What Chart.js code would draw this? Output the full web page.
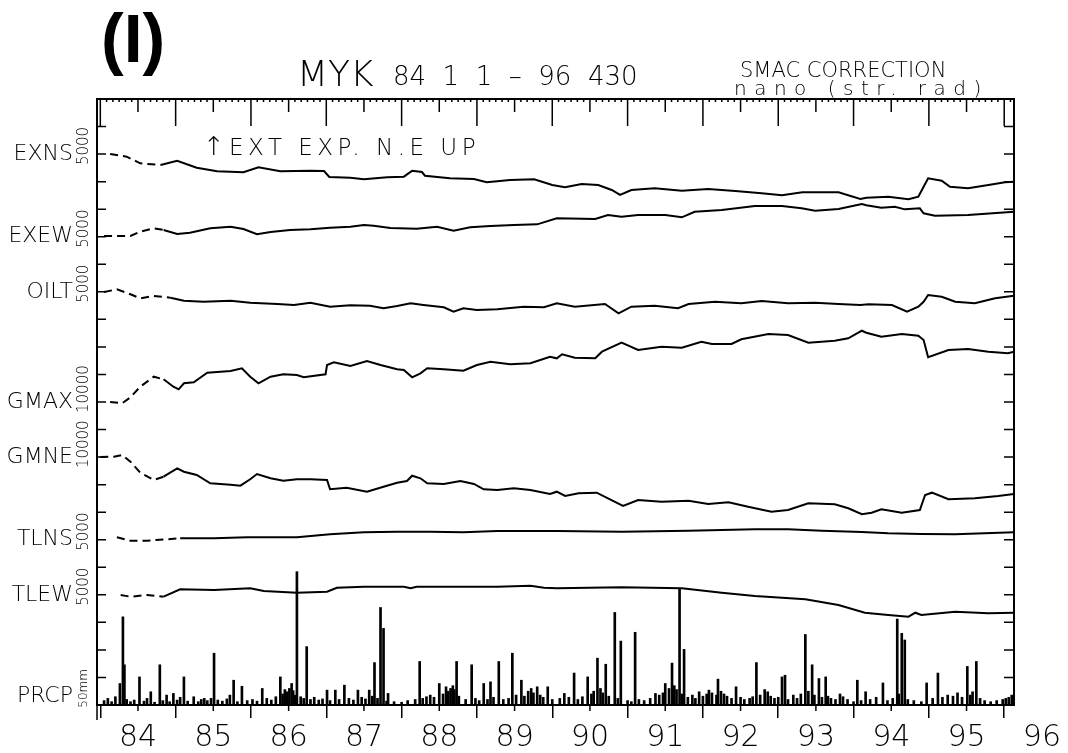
<!DOCTYPE html>
<html>
<head>
<meta charset="utf-8">
<title>MYK strain record 84-96</title>
<script src="https://cdn.jsdelivr.net/npm/chart.js@4.4.1/dist/chart.umd.min.js"></script>
<style>
  html, body { margin: 0; padding: 0; background: #fff; }
  canvas { display: block; }
</style>
</head>
<body>
<canvas id="strainChart" width="1068" height="753"></canvas>
<script>
// Traces: [decimal year, nano strain / nano rad relative to the label tick]
const exns = [[84.13,0],[84.35,-470],[84.53,-1670],[84.80,-1980],[85.02,-1200],[85.28,-2470],[85.55,-3120],[85.90,-3300],[86.10,-2400],[86.39,-3120],[86.79,-3010],[86.97,-3070],[87.04,-4160],[87.32,-4280],[87.50,-4570],[87.81,-4210],[88.03,-4100],[88.14,-3010],[88.27,-3250],[88.31,-3920],[88.64,-4390],[88.96,-4520],[89.13,-5120],[89.44,-4700],[89.76,-4570],[90.00,-5610],[90.17,-6030],[90.39,-5430],[90.61,-5610],[90.79,-6520],[90.90,-7420],[91.05,-6520],[91.36,-6210],[91.72,-6640],[92.07,-6330],[92.43,-6700],[92.78,-7110],[93.05,-7480],[93.32,-6930],[93.80,-6930],[94.09,-8150],[94.17,-7910],[94.46,-7730],[94.73,-8200],[94.86,-7730],[94.93,-5920],[94.99,-4390],[95.17,-4830],[95.28,-5920],[95.52,-6210],[95.79,-5610],[96.01,-5120],[96.13,-5010]];
const exew = [[84.05,130],[84.40,130],[84.53,910],[84.71,1520],[84.84,1220],[85.02,490],[85.19,730],[85.46,1520],[85.73,1820],[85.90,1400],[86.08,440],[86.26,850],[86.52,1220],[86.79,1340],[87.05,1630],[87.32,1820],[87.50,2120],[87.63,2000],[87.85,1580],[88.20,1450],[88.47,1820],[88.69,1090],[88.91,1710],[89.18,1940],[89.49,2120],[89.80,2250],[90.06,3340],[90.57,3210],[90.74,3940],[90.92,3630],[91.14,3940],[91.50,3940],[91.72,3520],[91.89,4540],[92.25,4850],[92.69,5570],[93.05,5570],[93.31,5150],[93.49,4720],[93.80,5030],[94.11,5940],[94.17,5700],[94.37,5260],[94.55,5450],[94.68,4970],[94.88,5150],[94.93,4250],[95.08,3810],[95.52,3940],[96.13,4540]];
const oilt = [[84.05,-40],[84.22,450],[84.40,-450],[84.53,-1180],[84.71,-760],[84.93,-1070],[85.11,-1620],[85.37,-1800],[85.73,-1620],[85.99,-1980],[86.35,-2210],[86.57,-2400],[86.79,-1980],[87.05,-2700],[87.32,-2450],[87.58,-2520],[87.76,-3000],[87.94,-2580],[88.12,-2090],[88.29,-2400],[88.56,-2810],[88.69,-3610],[88.82,-3000],[89.00,-3300],[89.27,-3180],[89.62,-2700],[89.89,-2810],[90.06,-2090],[90.30,-2700],[90.70,-2210],[90.88,-3900],[91.05,-2700],[91.36,-2520],[91.67,-2990],[91.81,-2210],[92.16,-1800],[92.51,-2090],[92.78,-1670],[93.13,-2090],[93.49,-1980],[93.80,-2210],[94.09,-2400],[94.20,-2270],[94.51,-2400],[94.71,-3610],[94.86,-2700],[94.93,-1800],[94.99,-580],[95.17,-890],[95.35,-1800],[95.61,-2090],[95.88,-1180],[96.13,-710]];
const gmax = [[84.13,0],[84.29,-470],[84.40,1710],[84.53,5550],[84.71,9180],[84.84,8240],[84.97,5550],[85.04,4610],[85.11,6790],[85.24,7150],[85.42,10640],[85.73,11250],[85.88,12230],[85.99,9180],[86.10,6790],[86.26,9180],[86.43,10060],[86.61,9800],[86.70,8970],[86.99,10060],[87.01,13430],[87.10,14410],[87.32,13070],[87.54,14880],[87.72,13430],[87.94,11870],[88.03,11620],[88.14,8970],[88.25,10420],[88.34,12230],[88.56,11870],[88.82,11360],[89.00,13430],[89.18,14630],[89.44,13690],[89.71,14050],[89.97,16440],[90.06,15860],[90.13,17320],[90.30,16080],[90.57,15860],[90.66,18260],[90.92,21530],[91.14,18880],[91.45,20070],[91.72,19710],[91.98,21890],[92.12,21050],[92.38,21050],[92.51,22760],[92.87,24680],[93.13,24320],[93.40,21530],[93.75,22250],[93.93,23120],[94.11,25880],[94.17,25160],[94.37,23710],[94.64,24680],[94.86,24070],[94.93,22510],[94.99,16230],[95.26,18880],[95.52,19240],[95.79,18260],[96.05,17680],[96.13,18260]];
const gmne = [[84.00,40],[84.18,150],[84.29,760],[84.40,-1670],[84.53,-5660],[84.71,-8310],[84.84,-7110],[85.02,-4070],[85.11,-5300],[85.28,-6500],[85.46,-9510],[85.73,-10020],[85.86,-10380],[85.99,-8060],[86.08,-6140],[86.26,-7700],[86.43,-8570],[86.61,-8060],[86.79,-8060],[87.01,-8310],[87.05,-11690],[87.27,-11110],[87.54,-12560],[87.76,-10740],[87.94,-9290],[88.07,-8680],[88.14,-6750],[88.25,-7700],[88.34,-9510],[88.56,-9760],[88.78,-8680],[88.96,-9760],[89.09,-11690],[89.27,-11940],[89.49,-11330],[89.71,-11940],[89.97,-13390],[90.06,-12560],[90.17,-14120],[90.35,-13140],[90.59,-12920],[90.74,-14960],[90.94,-17750],[91.14,-15570],[91.45,-16190],[91.81,-15830],[92.07,-17030],[92.34,-16410],[92.60,-18000],[92.91,-19820],[93.13,-19200],[93.40,-16770],[93.75,-17130],[93.93,-18590],[94.11,-20760],[94.24,-20180],[94.37,-18950],[94.64,-20180],[94.88,-19200],[94.95,-13760],[95.04,-12920],[95.26,-15320],[95.61,-14960],[95.92,-14120],[96.13,-13390]];
const tlns = [[84.22,440],[84.40,-180],[84.62,-180],[85.06,250],[85.51,250],[85.95,440],[86.61,440],[87.05,980],[87.50,1340],[87.94,1450],[88.38,1450],[88.82,1340],[89.27,1580],[89.71,1580],[90.06,1580],[90.92,1450],[91.81,1630],[92.69,1890],[93.13,1890],[93.58,1630],[94.11,1400],[94.46,1160],[94.90,1030],[95.35,980],[96.13,1340]];
const tlew = [[84.27,-40],[84.40,-340],[84.62,-40],[84.84,-340],[85.06,1000],[85.51,870],[85.99,1180],[86.17,690],[86.61,380],[87.01,560],[87.14,1290],[87.50,1470],[88.03,1470],[88.12,1180],[88.20,1470],[88.73,1470],[89.27,1470],[89.71,1650],[89.89,1290],[90.06,1180],[90.92,1360],[91.72,1180],[92.25,380],[92.69,-220],[93.36,-820],[93.80,-1850],[94.15,-3250],[94.46,-3670],[94.73,-3970],[94.82,-3250],[94.90,-3670],[95.35,-3070],[95.79,-3360],[96.13,-3250]];

// Rain [decimal year, mm]: the tall events, then the low daily bars along the base
const prcp = [[84.26,39],[84.30,160],[84.32,73],[84.52,51],[84.67,24],[84.79,73],[84.88,18],[84.97,21],[85.11,51],[85.24,15],[85.38,12],[85.51,94],[85.77,45],[85.88,34],[86.15,30],[86.39,51],[86.54,39],[86.61,242],[86.74,106],[87.01,27],[87.12,27],[87.24,36],[87.42,27],[87.57,27],[87.64,77],[87.72,177],[87.76,139],[87.82,21],[88.24,79],[88.50,39],[88.59,33],[88.73,79],[88.93,73],[89.09,39],[89.18,42],[89.29,79],[89.47,94],[89.59,45],[89.80,33],[89.94,33],[90.16,21],[90.29,58],[90.47,51],[90.60,85],[90.71,74],[90.83,168],[90.91,116],[91.10,132],[91.37,21],[91.50,39],[91.59,76],[91.69,211],[91.75,101],[91.95,24],[92.08,27],[92.20,47],[92.44,33],[92.71,77],[93.05,51],[93.09,54],[93.36,128],[93.45,73],[93.54,48],[93.63,51],[94.05,45],[94.16,24],[94.39,40],[94.58,156],[94.64,130],[94.68,118],[94.97,40],[95.12,58],[95.51,70],[95.63,79],[96.02,12]];
const prcpSmall = [[84.05,8],[84.10,12],[84.15,6],[84.20,15],[84.35,10],[84.40,6],[84.45,9],[84.58,7],[84.62,12],[84.72,5],[84.83,8],[84.92,6],[85.02,9],[85.06,14],[85.16,7],[85.30,6],[85.34,10],[85.42,8],[85.47,12],[85.56,9],[85.62,7],[85.68,11],[85.72,18],[85.82,6],[85.95,8],[86.02,10],[86.08,7],[86.21,12],[86.27,9],[86.33,15],[86.42,20],[86.45,28],[86.48,24],[86.51,30],[86.56,26],[86.58,18],[86.66,15],[86.70,12],[86.79,10],[86.84,14],[86.90,9],[86.95,11],[87.05,8],[87.17,10],[87.30,12],[87.36,9],[87.47,14],[87.52,11],[87.61,16],[87.68,12],[87.80,7],[87.90,6],[88.00,5],[88.08,8],[88.18,10],[88.28,12],[88.33,15],[88.38,18],[88.43,14],[88.55,20],[88.62,25],[88.65,30],[88.68,35],[88.70,28],[88.76,16],[88.85,10],[88.98,12],[89.03,8],[89.14,10],[89.22,14],[89.35,10],[89.42,12],[89.52,18],[89.63,16],[89.68,25],[89.72,30],[89.75,22],[89.84,18],[89.88,14],[90.00,10],[90.10,12],[90.22,14],[90.34,10],[90.40,15],[90.52,20],[90.55,25],[90.64,30],[90.67,22],[90.75,16],[90.87,12],[91.00,8],[91.05,6],[91.15,10],[91.22,8],[91.30,12],[91.42,18],[91.47,22],[91.55,30],[91.62,35],[91.65,28],[91.72,20],[91.80,14],[91.86,18],[91.90,12],[92.00,16],[92.05,20],[92.12,22],[92.18,18],[92.24,25],[92.28,20],[92.32,16],[92.38,12],[92.50,14],[92.55,10],[92.62,12],[92.66,15],[92.76,18],[92.82,28],[92.86,24],[92.90,16],[92.95,12],[93.00,14],[93.13,10],[93.20,18],[93.25,12],[93.30,20],[93.40,25],[93.48,18],[93.58,14],[93.66,16],[93.70,12],[93.76,10],[93.82,20],[93.86,15],[93.92,10],[94.00,6],[94.10,8],[94.22,10],[94.30,14],[94.45,8],[94.52,12],[94.60,20],[94.72,10],[94.80,8],[94.90,6],[95.05,12],[95.18,14],[95.25,18],[95.32,16],[95.38,22],[95.44,14],[95.55,18],[95.58,24],[95.68,12],[95.74,8],[95.82,6],[95.90,8],[95.98,10],[96.06,14],[96.10,18]];

const yearTicks = [84, 85, 86, 87, 88, 89, 90, 91, 92, 93, 94, 95, 96];
const channelNames = ['EXNS', 'EXEW', 'OILT', 'GMAX', 'GMNE', 'TLNS', 'TLEW', 'PRCP'];
const channelTicks = [20, 17, 15, 11, 9, 6, 4, 0];          // frame tick (from the bottom) where each trace's zero sits
const channelUnits = [5000, 5000, 5000, 10000, 10000, 5000, 5000, 50];  // value of one tick interval
const channelScaleText = ['5000', '5000', '5000', '10000', '10000', '5000', '5000', '50mm'];
const frameSteps = 22;
const xMin = 83.956, xMax = 96.13;

const FONT = "'DejaVu Sans'";

const scales = {
  x: {
    type: 'linear', position: 'bottom', min: xMin, max: xMax, offset: false,
    afterBuildTicks: s => { s.ticks = yearTicks.map(v => ({ value: v })); },
    afterFit: s => { s.height = 48; },
    ticks: {
      callback: v => String(v), autoSkip: false, maxRotation: 0, minRotation: 0,
      labelOffset: 37.7, padding: 2, color: '#000',
      font: { family: FONT, size: 30, weight: '200' }
    },
    grid: { offset: false, drawOnChartArea: false, drawTicks: true, tickLength: 13, color: '#000', lineWidth: 1.5 },
    border: { display: true, color: '#000', width: 2, dash: [2, 3] }
  },
  xTop: {
    type: 'linear', position: 'top', min: xMin, max: xMax, offset: false,
    afterFit: s => { s.height = 0; },
    ticks: { display: false },
    grid: { display: false, drawTicks: false },
    border: { display: true, color: '#000', width: 2 }
  },
  y: {
    type: 'linear', position: 'left', min: 0, max: frameSteps,
    afterBuildTicks: s => { s.ticks = channelTicks.map(k => ({ value: k === 0 ? 0.3 : k })); },
    afterFit: s => { s.width = 97; },
    ticks: {
      callback: (v, i) => channelNames[i], autoSkip: false, padding: 24, color: '#000',
      font: { family: FONT, size: 22, weight: '200' }
    },
    grid: { display: false, drawTicks: false },
    border: { display: true, color: '#000', width: 2 }
  },
  yRight: {
    type: 'linear', position: 'right', min: 0, max: frameSteps,
    afterFit: s => { s.width = 0; },
    ticks: { display: false },
    grid: { display: false, drawTicks: false },
    border: { display: true, color: '#000', width: 2 }
  }
};
channelNames.forEach((name, i) => {
  scales['y' + name] = {
    type: 'linear', display: false,
    min: -channelTicks[i] * channelUnits[i],
    max: (frameSteps - channelTicks[i]) * channelUnits[i]
  };
});

const traces = [exns, exew, oilt, gmax, gmne, tlns, tlew];
const datasets = traces.map((pts, i) => ({
  type: 'line',
  label: channelNames[i],
  yAxisID: 'y' + channelNames[i],
  data: pts.map(p => ({ x: p[0], y: p[1] })),
  borderColor: '#000',
  borderWidth: 2,
  pointRadius: 0,
  tension: 0,
  // the first months of 1984 are broken up in the record
  segment: { borderDash: ctx => ctx.p0.parsed.x < 84.75 ? [8, 5] : undefined }
}));
datasets.push({
  type: 'bar',
  label: 'PRCP',
  yAxisID: 'yPRCP',
  data: prcp.concat(prcpSmall).map(p => ({ x: p[0], y: p[1] })),
  backgroundColor: '#000',
  barThickness: 2,
  grouped: false
});

// inward tick marks on the frame
const frameTicks = {
  id: 'frameTicks',
  afterDraw(chart) {
    const { ctx, chartArea: a, scales: { x, y } } = chart;
    ctx.save();
    ctx.strokeStyle = '#000';
    ctx.lineWidth = 1.5;
    ctx.beginPath();
    for (let k = 1; k < frameSteps; k++) {
      const py = y.getPixelForValue(k);
      ctx.moveTo(a.left, py); ctx.lineTo(a.left + 9, py);
      ctx.moveTo(a.right - 10, py); ctx.lineTo(a.right, py);
    }
    // months along the top, longer at half years and years
    for (let m = Math.ceil(x.min * 12); m <= x.max * 12; m++) {
      const px = x.getPixelForValue(m / 12);
      const len = m % 12 === 0 ? 27 : (m % 6 === 0 ? 13 : 3);
      ctx.moveTo(px, a.top); ctx.lineTo(px, a.top + len);
    }
    yearTicks.forEach(v => {
      const px = x.getPixelForValue(v + 0.5);
      if (px < a.right) { ctx.moveTo(px, a.bottom); ctx.lineTo(px, a.bottom + 6); }
    });
    ctx.moveTo(a.left, a.bottom); ctx.lineTo(a.left, a.bottom + 15);
    ctx.stroke();
    ctx.restore();
  }
};

// titles and the small rotated scale values next to the channel names
const annotations = {
  id: 'annotations',
  afterDraw(chart) {
    const { ctx, scales: { y } } = chart;
    ctx.save();
    ctx.fillStyle = '#000';
    ctx.textBaseline = 'alphabetic';
    ctx.textAlign = 'left';
    ctx.font = "bold 68px 'Liberation Sans'";
    ctx.fillText('(I)', 101, 62);
    ctx.font = "200 36px " + FONT;
    ctx.fillText('MYK', 297, 86);
    ctx.font = "200 26px " + FONT;
    ctx.fillText('84  1  1  \u2013  96  430', 393, 85);
    ctx.font = "200 21px " + FONT;
    ctx.fillText('SMAC CORRECTION', 740, 77);
    ctx.font = "200 20px " + FONT;
    ctx.letterSpacing = '7.5px';
    ctx.fillText('nano (str. rad)', 734, 95);
    ctx.letterSpacing = '0px';
    ctx.font = "200 26px " + FONT;
    ctx.fillText('\u2191', 203, 155);
    ctx.font = "200 23px " + FONT;
    ctx.letterSpacing = '4.5px';
    ctx.fillText('EXT EXP. N.E UP', 229, 155);
    ctx.letterSpacing = '0px';

    ctx.textBaseline = 'middle';
    channelTicks.forEach((k, i) => {
      const py = y.getPixelForValue(k === 0 ? 0.3 : k) + 11;
      ctx.save();
      ctx.translate(84, py);
      ctx.rotate(-Math.PI / 2);
      ctx.font = (i === 7 ? "200 12px " : "200 15px ") + FONT;
      ctx.fillText(channelScaleText[i], 0, 0);
      ctx.restore();
    });
    ctx.restore();
  }
};

new Chart(document.getElementById('strainChart'), {
  type: 'line',
  data: { datasets },
  options: {
    responsive: false,
    animation: false,
    events: [],
    layout: { padding: { top: 99, right: 54, left: 0, bottom: 0 } },
    plugins: { legend: { display: false }, tooltip: { enabled: false } },
    scales
  },
  plugins: [frameTicks, annotations]
});
</script>
</body>
</html>
